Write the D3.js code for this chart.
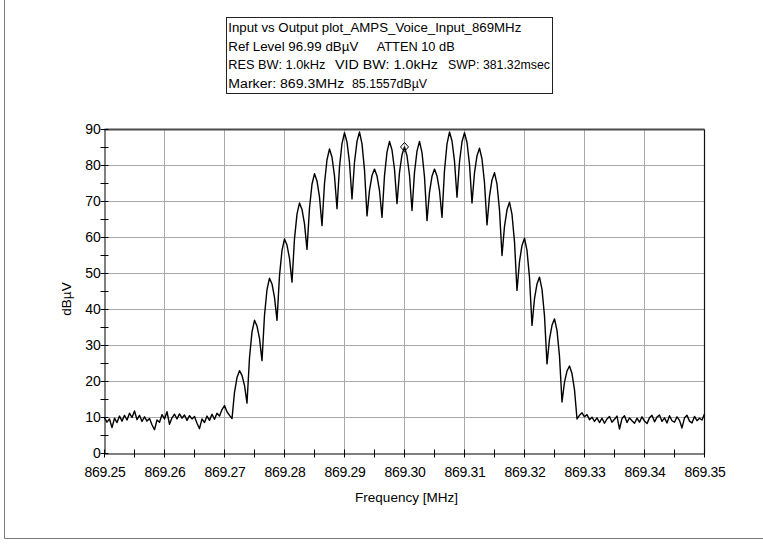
<!DOCTYPE html>
<html>
<head>
<meta charset="utf-8">
<script src="https://cdn.jsdelivr.net/npm/d3@7"></script>
<style>
  html, body { margin: 0; padding: 0; background: #fff; }
  svg { display: block; }
  text { font-family: "Liberation Sans", Arial, sans-serif; fill: #000; }
</style>
</head>
<body>
<svg id="chart" width="763" height="544"></svg>
<script>
// ---- Sweep and labels -------------------------------------------------------
const sweepStartMHz = 869.25;
const sweepStopMHz = 869.35;

const xTickValues = [869.25, 869.26, 869.27, 869.28, 869.29, 869.30, 869.31, 869.32, 869.33, 869.34, 869.35];
const xTickLabels = ["869.25", "869.26", "869.27", "869.28", "869.29", "869.30", "869.31", "869.32", "869.33", "869.34", "869.35"];
const yTickValues = [0, 10, 20, 30, 40, 50, 60, 70, 80, 90];

const xTitle = "Frequency [MHz]";
const yTitle = "dBµV";

// Header block: each line is a list of text runs [text, x, width]
const headerLines = [
  [["Input vs Output plot_AMPS_Voice_Input_869MHz", 228.3, 293]],
  [["Ref Level 96.99 dBµV", 228.3, 130], ["ATTEN 10 dB", 376.7, 78]],
  [["RES BW: 1.0kHz", 228.3, 97], ["VID BW: 1.0kHz", 335, 103], ["SWP: 381.32msec", 448, 102]],
  [["Marker: 869.3MHz", 228.3, 116], ["85.1557dBµV", 352, 75]]
];

// Marker reading
const markerFreqMHz = 869.30;
const markerLevel = 85.1557;

// ---- Trace (dBµV), equally spaced points across the sweep -------------------
const floorLow = [
  9.9, 8.7, 9.6, 7.2, 9.8, 8.6, 10.4, 9.0, 10.6, 9.3,
  11.2, 10.0, 11.8, 9.4, 10.6, 8.9, 10.2, 9.0, 9.7, 8.0,
  6.6, 9.3, 8.7, 10.8, 9.6, 11.6, 8.1, 9.9, 10.9, 9.6,
  11.0, 9.8, 10.7, 9.2, 10.5, 9.6, 10.3, 8.4, 6.9, 9.6,
  8.6, 10.4, 9.2, 10.9, 9.5, 11.2
];

const occupiedBand = [
  10.4, 12.2, 13.3, 11.6, 10.6, 9.7,
  17.0, 21.1, 23.0, 21.7, 18.9, 14.0,
  26.6, 33.8, 37.0, 35.4, 32.0, 25.8,
  38.4, 45.5, 48.7, 47.1, 43.4, 37.0,
  49.4, 56.4, 59.6, 57.9, 54.2, 47.6,
  59.7, 66.5, 69.6, 67.8, 63.8, 56.7,
  68.2, 74.8, 77.7, 75.7, 71.2, 63.3,
  75.0, 81.6, 84.6, 82.3, 77.1, 68.0,
  79.6, 86.1, 89.1, 86.5, 80.8, 70.7,
  80.9, 86.7, 89.3, 86.0, 78.8, 66.0,
  73.1, 77.2, 79.0, 77.1, 73.0, 65.6,
  77.2, 83.7, 86.7, 84.3, 78.9, 69.4,
  78.1, 83.0, 85.16, 82.7, 77.3, 67.5,
  78.1, 84.0, 86.7, 83.6, 76.8, 64.7,
  72.6, 77.0, 79.0, 77.1, 73.0, 65.6,
  78.6, 86.0, 89.3, 86.8, 81.2, 71.2,
  81.0, 86.6, 89.1, 86.4, 80.3, 69.6,
  78.0, 82.7, 84.8, 81.8, 75.2, 63.5,
  71.5, 76.0, 78.0, 74.8, 67.6, 55.0,
  63.1, 67.7, 69.8, 66.4, 58.8, 45.3,
  53.3, 57.8, 59.8, 56.4, 48.9, 35.6,
  43.0, 47.1, 49.0, 45.6, 38.2, 24.9,
  31.8, 35.6, 37.4, 34.2, 27.0, 14.3,
  19.8, 22.9, 24.3, 22.2, 17.7, 9.6,
  10.6
];

const floorHigh = [
  11.3, 10.2, 10.8, 9.4, 10.1, 8.9, 9.9, 8.6, 9.8, 8.4,
  9.6, 10.3, 8.7, 9.5, 10.4, 6.8, 9.7, 10.5, 8.6, 9.9,
  9.1, 8.4, 9.8, 8.7, 10.2, 9.0, 8.3, 9.9, 10.6, 8.8,
  10.1, 10.7, 8.9, 9.9, 8.5, 10.5, 9.1, 8.7, 10.2, 9.2,
  7.1, 9.9, 10.6, 9.0, 8.5, 10.3, 9.1, 9.8, 9.3, 11.0
];

const trace = floorLow.concat(occupiedBand, floorHigh);
const step = (sweepStopMHz - sweepStartMHz) / (trace.length - 1);
const tracePoints = trace.map((v, i) => ({ f: sweepStartMHz + i * step, v }));

// ---- Layout -----------------------------------------------------------------
const svg = d3.select("#chart");
const plot = { left: 104.5, right: 704.5, top: 129.5, bottom: 453.5 };

const x = d3.scaleLinear().domain([sweepStartMHz, sweepStopMHz]).range([plot.left, plot.right]);
const y = d3.scaleLinear().domain([0, 90]).range([plot.bottom, plot.top]);

svg.append("rect").attr("width", 763).attr("height", 544).attr("fill", "#fff");

// Outer frame (left and bottom edges)
svg.append("path")
  .attr("d", "M4.5,0 V538.5 H763")
  .attr("fill", "none").attr("stroke", "#7a7a7a").attr("stroke-width", 1);

// ---- Header box -------------------------------------------------------------
svg.append("rect")
  .attr("x", 226.5).attr("y", 17.5).attr("width", 326).attr("height", 76)
  .attr("fill", "#fff").attr("stroke", "#222").attr("stroke-width", 1);

const headerBaselines = [32.3, 50.8, 69.3, 87.5];
headerLines.forEach((runs, li) => {
  runs.forEach(([txt, tx, tw]) => {
    svg.append("text")
      .attr("x", tx).attr("y", headerBaselines[li])
      .attr("font-size", "12.5px")
      .attr("textLength", tw).attr("lengthAdjust", "spacingAndGlyphs")
      .text(txt);
  });
});

// ---- Grid -------------------------------------------------------------------
const grid = svg.append("g").attr("stroke", "#a9a9a9").attr("stroke-width", 1);
yTickValues.filter(v => v > 0 && v < 90).forEach(v => {
  grid.append("line").attr("x1", plot.left).attr("x2", plot.right)
    .attr("y1", y(v)).attr("y2", y(v));
});
xTickValues.slice(1, -1).forEach(f => {
  grid.append("line").attr("x1", x(f)).attr("x2", x(f))
    .attr("y1", plot.top).attr("y2", plot.bottom);
});

// Top and right edges of the plot
svg.append("line").attr("x1", plot.left).attr("x2", plot.right)
  .attr("y1", y(90)).attr("y2", y(90))
  .attr("stroke", "#4a4a4a").attr("stroke-width", 2);
svg.append("line").attr("x1", plot.right).attr("x2", plot.right)
  .attr("y1", plot.top).attr("y2", plot.bottom)
  .attr("stroke", "#111").attr("stroke-width", 1.2);

// ---- Axes -------------------------------------------------------------------
const xAxis = d3.axisBottom(x)
  .tickValues(xTickValues)
  .tickFormat((d, i) => xTickLabels[i])
  .tickSize(0).tickPadding(14);
const gx = svg.append("g").attr("transform", `translate(0,${plot.bottom})`).call(xAxis);
gx.select(".domain").attr("stroke", "#000");
gx.selectAll("text")
  .attr("font-size", "14px").attr("letter-spacing", "-0.3px")
  .attr("font-family", "Liberation Sans, Arial, sans-serif").attr("fill", "#000");

const yAxis = d3.axisLeft(y)
  .tickValues(yTickValues)
  .tickSize(0).tickPadding(4);
const gy = svg.append("g").attr("transform", `translate(${plot.left},0)`).call(yAxis);
gy.select(".domain").attr("stroke", "#000");
gy.selectAll("text")
  .attr("font-size", "14px").attr("letter-spacing", "-0.2px")
  .attr("font-family", "Liberation Sans, Arial, sans-serif").attr("fill", "#000");

// Crossing tick marks (major and half-step minor)
const ticks = svg.append("g").attr("stroke", "#000").attr("stroke-width", 1);
d3.range(0, 21).map(k => sweepStartMHz + k * 0.005).forEach(f => {
  const px = Math.round(x(f) - 0.5) + 0.5;
  ticks.append("line").attr("x1", px).attr("x2", px)
    .attr("y1", plot.bottom - 4).attr("y2", plot.bottom + 4);
});
d3.range(0, 19).map(k => k * 5).forEach(v => {
  ticks.append("line").attr("x1", plot.left - 4).attr("x2", plot.left + 4)
    .attr("y1", y(v)).attr("y2", y(v));
});

// Axis titles
svg.append("text")
  .attr("x", (plot.left + plot.right) / 2 + 2).attr("y", 502)
  .attr("text-anchor", "middle").attr("font-size", "13.5px")
  .text(xTitle);

svg.append("text")
  .attr("transform", "translate(71,299) rotate(-90)")
  .attr("text-anchor", "middle").attr("font-size", "13.5px")
  .text(yTitle);

// ---- Trace ------------------------------------------------------------------
const line = d3.line()
  .x(d => x(d.f))
  .y(d => y(d.v))
  .curve(d3.curveLinear);

svg.append("path")
  .datum(tracePoints)
  .attr("d", line)
  .attr("fill", "none")
  .attr("stroke", "#000")
  .attr("stroke-width", 1.4)
  .attr("stroke-linejoin", "round");

// ---- Marker -----------------------------------------------------------------
const mx = x(markerFreqMHz), my = y(markerLevel);
svg.append("path")
  .attr("d", `M${mx},${my - 4.5} L${mx + 4},${my} L${mx},${my + 4.5} L${mx - 4},${my} Z`)
  .attr("fill", "none").attr("stroke", "#000").attr("stroke-width", 1);
</script>
</body>
</html>
